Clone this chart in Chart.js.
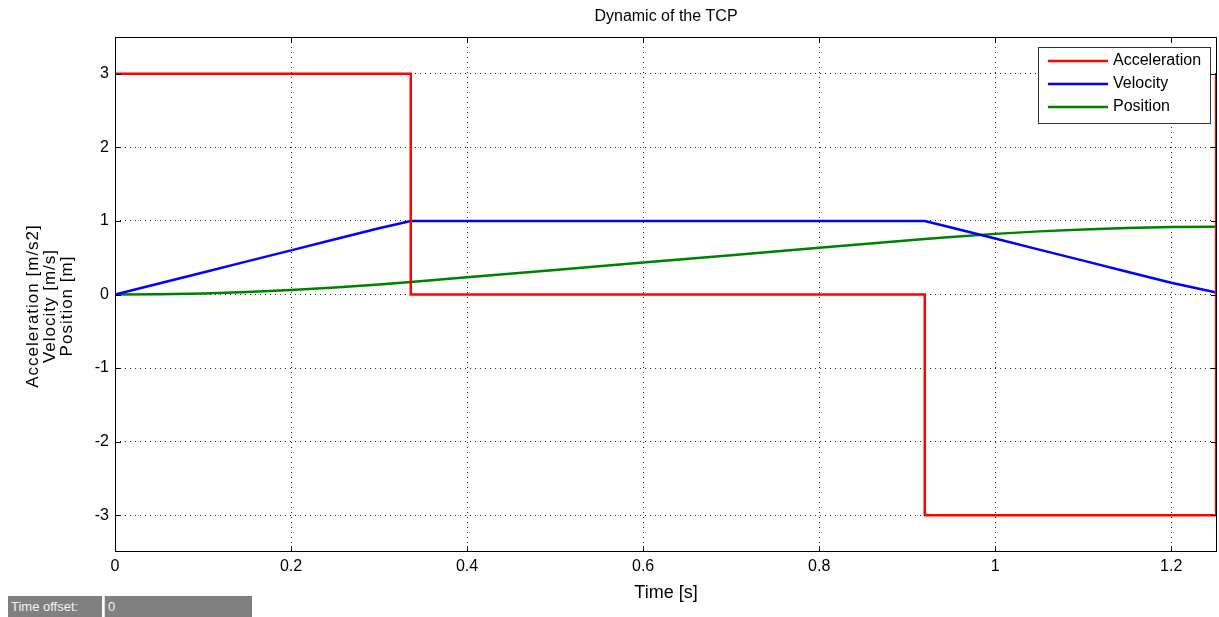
<!DOCTYPE html>
<html>
<head>
<meta charset="utf-8">
<title>Dynamic of the TCP</title>
<script src="https://cdn.jsdelivr.net/npm/chart.js@4.4.1/dist/chart.umd.min.js"></script>
<style>
  body { margin: 0; background: #fff; }
  #wrap { position: relative; width: 1219px; height: 617px; }
  .box { position: absolute; top: 596px; height: 21px; background: #808080; color: #f4f4f4;
         font: 13px "Liberation Sans", Arial, sans-serif; line-height: 21px; box-sizing: border-box; }
</style>
</head>
<body>
<div id="wrap">
  <canvas id="tcp" width="1219" height="617"></canvas>
  <div class="box" style="left:8px;width:94px;padding-left:3px">Time offset:</div>
  <div class="box" style="left:104px;width:148px;padding-left:3px;border-left:1px solid #ddd">0</div>
</div>
<script>
'use strict'

// values
const timeS = [0, 0.05, 0.1, 0.15, 0.2, 0.25, 0.3, 0.336, 0.4, 0.5, 0.6, 0.7, 0.8, 0.92,
  0.95, 1.0, 1.05, 1.1, 1.15, 1.2, 1.25];
const velocity = [0, 0.15, 0.3, 0.45, 0.6, 0.75, 0.9, 1.0, 1.0, 1.0, 1.0, 1.0, 1.0, 1.0,
  0.91, 0.76, 0.61, 0.46, 0.31, 0.16, 0.03];
const position = [0, 0.004, 0.015, 0.034, 0.06, 0.094, 0.135, 0.17, 0.234, 0.334, 0.434,
  0.534, 0.634, 0.754, 0.783, 0.824, 0.858, 0.885, 0.904, 0.916, 0.92];
const accelTime = [0, 0.336, 0.336, 0.92, 0.92, 1.251, 1.251];
const acceleration = [3, 3, 0, 0, -3, -3, 3];
const xTicks = [0, 0.2, 0.4, 0.6, 0.8, 1, 1.2];
const yTicks = [-3, -2, -1, 0, 1, 2, 3];
const yLabel = ['Acceleration [m/s2]', 'Velocity [m/s]', 'Position [m]'];

const font = '"Liberation Sans", Arial, Helvetica, sans-serif';

function pts(xs, ys) {
  return xs.map((t, i) => ({ x: t, y: ys[i] }));
}

// frame, inner tick marks, title, y label and legend the MATLAB way
const matlabFrame = {
  id: 'matlabFrame',
  afterDatasetsDraw(chart) {
    const { ctx, chartArea: a, scales: { x, y } } = chart;
    ctx.save();
    ctx.strokeStyle = '#000';
    ctx.lineWidth = 1;
    ctx.strokeRect(a.left + 0.5, a.top + 0.5, a.right - a.left - 1, a.bottom - a.top - 1);

    ctx.beginPath();
    xTicks.forEach(v => {
      const px = Math.round(x.getPixelForValue(v)) + 0.5;
      ctx.moveTo(px, a.bottom); ctx.lineTo(px, a.bottom - 6);
      ctx.moveTo(px, a.top); ctx.lineTo(px, a.top + 6);
    });
    yTicks.forEach(v => {
      const py = Math.round(y.getPixelForValue(v)) + 0.5;
      ctx.moveTo(a.left, py); ctx.lineTo(a.left + 6, py);
      ctx.moveTo(a.right, py); ctx.lineTo(a.right - 6, py);
    });
    ctx.stroke();

    // title
    ctx.fillStyle = '#000';
    ctx.font = '16px ' + font;
    ctx.textAlign = 'center';
    ctx.textBaseline = 'middle';
    ctx.fillText('Dynamic of the TCP', (a.left + a.right) / 2, 17);

    // y label, three lines rotated
    ctx.save();
    ctx.translate(33, 306);
    ctx.rotate(-Math.PI / 2);
    ctx.font = '17px ' + font;
    ctx.letterSpacing = '1px';
    yLabel.forEach((t, i) => ctx.fillText(t, 0, i * 17));
    ctx.restore();

    // legend
    const lx = 1038, ly = 47, lw = 172, lh = 76;
    ctx.fillStyle = '#fff';
    ctx.fillRect(lx, ly, lw, lh);
    ctx.strokeStyle = '#333';
    ctx.strokeRect(lx + 0.5, ly + 0.5, lw, lh);
    ctx.font = '16px ' + font;
    ctx.textAlign = 'left';
    chart.data.datasets.forEach((ds, i) => {
      const yy = ly + 14 + i * 23;
      ctx.strokeStyle = ds.borderColor;
      ctx.lineWidth = 2.5;
      ctx.beginPath();
      ctx.moveTo(lx + 10, yy); ctx.lineTo(lx + 70, yy);
      ctx.stroke();
      ctx.fillStyle = '#000';
      ctx.fillText(ds.label, lx + 75, yy);
    });
    ctx.restore();
  }
};

new Chart(
  document.getElementById('tcp'),
  {
    type: 'line',
    data: {
      datasets: [
        {
          label: 'Acceleration',
          data: pts(accelTime, acceleration),
          borderColor: '#ff0000',
          borderWidth: 2.5
        },
        {
          label: 'Velocity',
          data: pts(timeS, velocity),
          borderColor: '#0000ff',
          borderWidth: 2.5
        },
        {
          label: 'Position',
          data: pts(timeS, position),
          borderColor: '#008000',
          borderWidth: 2.5
        }
      ]
    },
    options: {
      responsive: false,
      animation: false,
      devicePixelRatio: 1,
      pointRadius: 0,
      tension: 0,
      layout: { padding: { left: 0, right: 2, top: 37, bottom: 0 } },
      plugins: {
        legend: { display: false },
        title: { display: false },
        tooltip: { enabled: false }
      },
      scales: {
        x: {
          type: 'linear',
          min: 0,
          max: 1.252,
          afterBuildTicks: s => { s.ticks = xTicks.map(v => ({ value: v })); },
          afterFit: s => { s.height = 65; },
          grid: { color: '#222', drawTicks: false },
          border: { display: false, dash: [1, 4] },
          ticks: { color: '#000', padding: 5, font: { family: font, size: 16 },
            callback: v => String(v) },
          title: { display: true, text: 'Time [s]', color: '#000',
            font: { family: font, size: 18 }, padding: { top: 2, bottom: 13 } }
        },
        y: {
          min: -3.5,
          max: 3.5,
          afterBuildTicks: s => { s.ticks = yTicks.map(v => ({ value: v })); },
          afterFit: s => { s.width = 115; },
          grid: { color: '#222', drawTicks: false },
          border: { display: false, dash: [1, 4] },
          ticks: { color: '#000', padding: 6, font: { family: font, size: 16 } }
        }
      }
    },
    plugins: [matlabFrame]
  }
);
</script>
</body>
</html>
